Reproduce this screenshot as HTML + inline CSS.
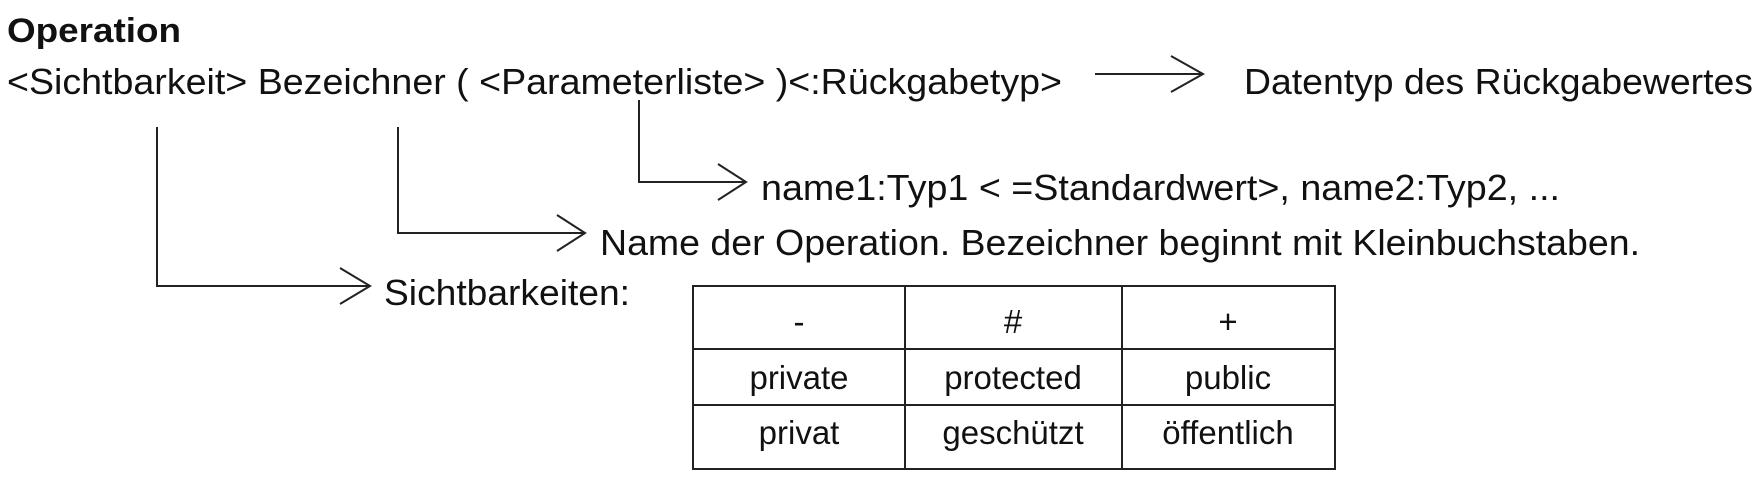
<!DOCTYPE html>
<html><head><meta charset="utf-8"><style>
html,body{margin:0;padding:0;background:#fff;}
svg{display:block;}
text{font-family:"Liberation Sans",Arial,sans-serif;fill:#111;}
</style></head><body>
<svg width="1763" height="479" viewBox="0 0 1763 479" xmlns="http://www.w3.org/2000/svg">
<g font-size="36">
<text x="7" y="42" font-size="34" font-weight="bold" textLength="174" lengthAdjust="spacingAndGlyphs">Operation</text>
<text x="7" y="94" textLength="1055" lengthAdjust="spacingAndGlyphs">&lt;Sichtbarkeit&gt; Bezeichner ( &lt;Parameterliste&gt; )&lt;:Rückgabetyp&gt;</text>
<text x="1244" y="94" textLength="509" lengthAdjust="spacingAndGlyphs">Datentyp des Rückgabewertes</text>
<text x="761" y="200" textLength="799" lengthAdjust="spacingAndGlyphs">name1:Typ1 &lt; =Standardwert&gt;, name2:Typ2, ...</text>
<text x="600" y="255" textLength="1040" lengthAdjust="spacingAndGlyphs">Name der Operation. Bezeichner beginnt mit Kleinbuchstaben.</text>
<text x="384" y="305" textLength="246" lengthAdjust="spacingAndGlyphs">Sichtbarkeiten:</text>
</g>
<g stroke="#222" stroke-width="2" fill="none">
<line x1="1095" y1="74" x2="1203" y2="74"/>
<polyline points="1171,56 1203,74 1171,92"/>
<polyline points="157,127 157,286 370,286"/>
<polyline points="340,268 370,286 340,304"/>
<polyline points="398,127 398,233 585,233"/>
<polyline points="557,215 585,233 557,251"/>
<polyline points="639,100 639,182 746,182"/>
<polyline points="718,164 746,182 718,200"/>
<rect x="693" y="286" width="642" height="183"/>
<line x1="693" y1="349" x2="1335" y2="349"/>
<line x1="693" y1="405" x2="1335" y2="405"/>
<line x1="905" y1="286" x2="905" y2="469"/>
<line x1="1122" y1="286" x2="1122" y2="469"/>
</g>
<g font-size="33" text-anchor="middle">
<text x="799" y="333">-</text>
<text x="1013" y="333">#</text>
<text x="1228" y="333">+</text>
<text x="799" y="389">private</text>
<text x="1013" y="389">protected</text>
<text x="1228" y="389">public</text>
<text x="799" y="444">privat</text>
<text x="1013" y="444">geschützt</text>
<text x="1228" y="444">öffentlich</text>
</g>
</svg>
</body></html>
